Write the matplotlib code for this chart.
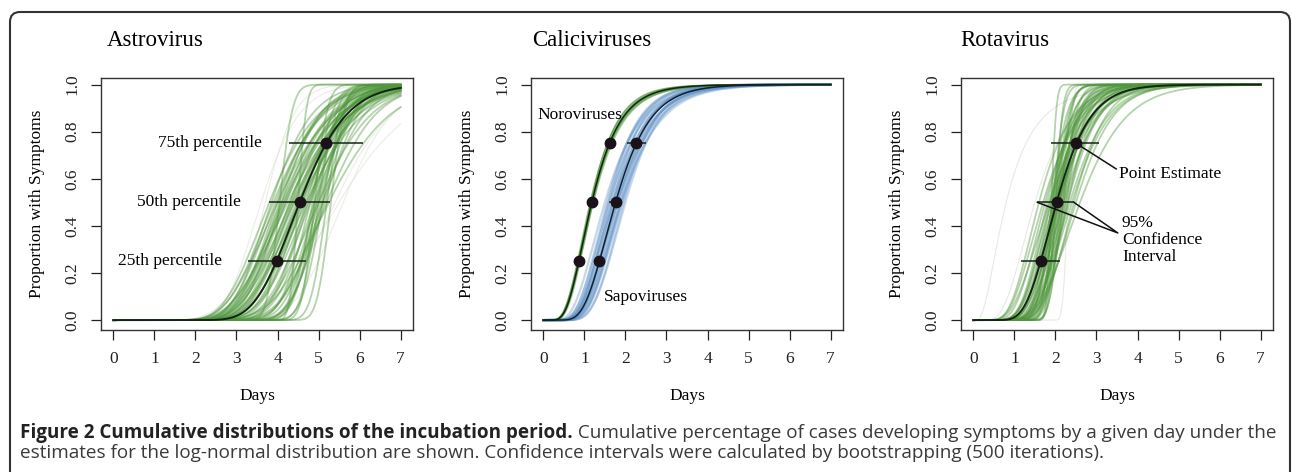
import math
import numpy as np
import matplotlib
matplotlib.use('Agg')
import matplotlib.pyplot as plt
from matplotlib.patches import FancyBboxPatch
from matplotlib.transforms import IdentityTransform

# Parametros (mediana em dias, dispersao log)
astro_med = [3.80, 3.85, 3.90, 3.95, 4.00, 4.05, 4.05, 4.10, 4.15, 4.20, 4.25, 4.30, 4.35, 4.40,
             4.45, 4.50, 4.55, 4.60, 4.65, 4.70, 4.75, 4.80, 4.85, 4.90, 4.90, 4.95, 5.00, 5.00,
             5.05, 5.10, 5.15, 5.20, 5.20, 5.25, 5.30, 4.50,
             4.00, 4.10, 4.20, 4.30, 4.40, 4.50, 4.60, 4.70, 4.80, 4.90, 5.00, 5.10, 4.35, 4.55,
             4.75, 4.15, 4.95, 5.10]
astro_sd = [0.24, 0.20, 0.24, 0.22, 0.26, 0.20, 0.06, 0.23, 0.25, 0.21, 0.27, 0.22, 0.19, 0.24,
            0.20, 0.22, 0.18, 0.21, 0.19, 0.23, 0.15, 0.12, 0.08, 0.10, 0.05, 0.14, 0.07, 0.20,
            0.11, 0.16, 0.13, 0.18, 0.06, 0.22, 0.05, 0.035,
            0.20, 0.18, 0.24, 0.20, 0.21, 0.19, 0.17, 0.15, 0.18, 0.16, 0.13, 0.12, 0.25, 0.24,
            0.20, 0.21, 0.09, 0.08]
astro_faint_med = [3.60, 3.70, 4.10, 5.40, 5.50, 5.60]
astro_faint_sd = [0.20, 0.15, 0.30, 0.20, 0.25, 0.17]

noro_med = [1.14, 1.15, 1.16, 1.17, 1.18, 1.18, 1.19, 1.20, 1.21, 1.22]
noro_sd = [0.47, 0.45, 0.44, 0.48, 0.45, 0.49, 0.47, 0.46, 0.44, 0.47]

sapo_med = [1.50, 1.55, 1.58, 1.60, 1.62, 1.65, 1.68, 1.70, 1.70, 1.72, 1.75, 1.78, 1.80, 1.80,
            1.82, 1.85, 1.88, 1.90, 1.90, 1.93, 1.96, 2.00]
sapo_sd = [0.45, 0.40, 0.37, 0.42, 0.36, 0.38, 0.40, 0.34, 0.43, 0.38, 0.36, 0.40, 0.35, 0.42,
           0.38, 0.33, 0.36, 0.34, 0.40, 0.37, 0.32, 0.33]

rota_med = [1.60, 1.70, 1.75, 1.80, 1.85, 1.88, 1.90, 1.90, 1.93, 1.95, 1.98, 2.00, 2.00, 2.02,
            2.05, 2.05, 2.10, 2.10, 2.12, 2.15, 2.20, 2.20, 2.25, 2.30, 2.35, 2.40, 2.45, 2.50, 2.60,
            1.85, 1.95, 2.00, 2.05, 2.10, 2.15, 2.20, 2.25, 2.30, 1.92, 2.00, 2.08, 1.97, 2.18]
rota_sd = [0.38, 0.40, 0.35, 0.30, 0.42, 0.25, 0.33, 0.05, 0.20, 0.10, 0.18, 0.07, 0.28, 0.22,
           0.12, 0.35, 0.25, 0.30, 0.10, 0.20, 0.30, 0.15, 0.27, 0.22, 0.30, 0.30, 0.25, 0.28, 0.33,
           0.30, 0.28, 0.24, 0.20, 0.17, 0.26, 0.22, 0.18, 0.26, 0.15, 0.13, 0.30, 0.34, 0.12]
rota_faint_med = [0.80, 2.30, 1.50]
rota_faint_sd = [0.70, 0.04, 0.45]

# Estimativas pontuais (mediana, dispersao)
astro_est = (4.54, 0.197)
noro_est = (1.18, 0.46)
sapo_est = (1.76, 0.375)
rota_est = (2.03, 0.315)

# Percentis 25/50/75 e intervalos de confianca
pct = [0.25, 0.50, 0.75]
astro_q, astro_lo, astro_hi = [3.98, 4.54, 5.19], [3.28, 3.80, 4.28], [4.70, 5.29, 6.07]
noro_q, noro_lo, noro_hi = [0.87, 1.18, 1.62], [0.83, 1.14, 1.57], [0.92, 1.22, 1.67]
sapo_q, sapo_lo, sapo_hi = [1.35, 1.76, 2.25], [1.25, 1.61, 2.04], [1.45, 1.92, 2.49]
rota_q, rota_lo, rota_hi = [1.64, 2.03, 2.51], [1.15, 1.56, 1.90], [2.12, 2.45, 3.06]
astro_lbl_x = [2.65, 3.11, 3.63]

green = '#4f963c'
blue = '#5d8fc4'
dark = '#142414'
serif = 'Liberation Serif'
fsz = 12.5

erf = np.vectorize(math.erf)


def lognorm_cdf(x, med, sd):
    out = np.zeros_like(x)
    pos = x > 0
    out[pos] = 0.5 * (1 + erf(np.log(x[pos] / med) / (sd * np.sqrt(2))))
    return out


x = np.linspace(0, 7, 500)

fig = plt.figure(figsize=(12.92, 4.72), dpi=100)
plt.rcParams['font.family'] = serif

lefts = [101 / 1292, 531 / 1292, 961 / 1292]
axs = [fig.add_axes([l, 142 / 472, 312 / 1292, 252 / 472]) for l in lefts]


def style(ax, title, tx):
    ax.set_xlim(-0.3, 7.3)
    ax.set_ylim(-0.042, 1.028)
    ax.set_xticks(range(8))
    ax.set_yticks([0, 0.2, 0.4, 0.6, 0.8, 1.0])
    ax.set_yticklabels(['0.0', '0.2', '0.4', '0.6', '0.8', '1.0'], rotation=90, va='center')
    ax.tick_params(direction='out', length=7, width=0.9, labelsize=fsz, pad=8, colors='#222')
    for s in ax.spines.values():
        s.set_linewidth(1.0)
        s.set_color('#333')
    ax.set_xlabel('Days', fontsize=fsz)
    ax.set_ylabel('Proportion with Symptoms', fontsize=fsz)
    ax.xaxis.set_label_coords(0.5, -0.232)
    ax.yaxis.set_label_coords(-0.178, 0.5)
    ax.text(tx, 1.15, title, transform=ax.transAxes, fontsize=16.5, va='center')


def estimates(ax, q, lo, hi):
    ax.hlines(pct, lo, hi, color=dark, lw=1.1, zorder=5)
    ax.plot(q, pct, 'o', color='#1a1218', ms=7.5, zorder=6)


# Astrovirus
ax = axs[0]
for m, s in zip(astro_faint_med, astro_faint_sd):
    ax.plot(x, lognorm_cdf(x, m, s), color='#d4dece', lw=0.8, alpha=0.5)
for m, s in zip(astro_med, astro_sd):
    ax.plot(x, lognorm_cdf(x, m, s), color=green, lw=1.3, alpha=0.42)
ax.plot(x, lognorm_cdf(x, *astro_est), color=dark, lw=1.4, zorder=4)
estimates(ax, astro_q, astro_lo, astro_hi)
for q, p in zip(astro_lbl_x, pct):
    ax.text(q, p, f'{int(p * 100)}th percentile', ha='right', va='center', fontsize=fsz)
style(ax, 'Astrovirus', 0.019)

# Caliciviruses
ax = axs[1]
for m, s in zip(sapo_med, sapo_sd):
    ax.plot(x, lognorm_cdf(x, m, s), color=blue, lw=1.6, alpha=0.35)
for m, s in zip(noro_med, noro_sd):
    ax.plot(x, lognorm_cdf(x, m, s), color=green, lw=1.0, alpha=0.5)
ax.plot(x, lognorm_cdf(x, *noro_est), color=dark, lw=1.1, zorder=4)
ax.plot(x, lognorm_cdf(x, *sapo_est), color='#10202e', lw=1.1, zorder=4)
estimates(ax, noro_q, noro_lo, noro_hi)
estimates(ax, sapo_q, sapo_lo, sapo_hi)
ax.text(-0.14, 0.87, 'Noroviruses', va='center', fontsize=fsz)
ax.text(1.47, 0.10, 'Sapoviruses', va='center', fontsize=fsz)
style(ax, 'Caliciviruses', 0.003)

# Rotavirus
ax = axs[2]
for m, s in zip(rota_faint_med, rota_faint_sd):
    ax.plot(x, lognorm_cdf(x, m, s), color='#d6ddd2', lw=0.8, alpha=0.6)
for m, s in zip(rota_med, rota_sd):
    ax.plot(x, lognorm_cdf(x, m, s), color=green, lw=1.3, alpha=0.42)
ax.plot(x, lognorm_cdf(x, *rota_est), color=dark, lw=1.4, zorder=4)
estimates(ax, rota_q, rota_lo, rota_hi)
ax.plot([rota_q[2], 3.48], [0.75, 0.642], color='#111', lw=1.1, zorder=5)
ax.text(3.56, 0.62, 'Point Estimate', va='center', fontsize=fsz)
ax.plot([rota_lo[1], 3.52, rota_hi[1]], [0.5, 0.37, 0.5], color='#111', lw=1.1, zorder=5)
ax.text(3.62, 0.34, '95%\nConfidence\nInterval', va='center', fontsize=fsz, linespacing=1.05)
style(ax, 'Rotavirus', -0.003)

# Moldura arredondada
box = FancyBboxPatch((10, -40), 1280, 500, boxstyle='round,pad=0,rounding_size=10',
                     transform=IdentityTransform(), fill=False, ec='#333', lw=1.5)
fig.add_artist(box)

# Legenda da figura
bold = 'Figure 2 Cumulative distributions of the incubation period.'
rest = ' Cumulative percentage of cases developing symptoms by a given day under the'
line2 = ('estimates for the log-normal distribution are shown. Confidence intervals were '
         'calculated by bootstrapping (500 iterations).')
cap = ['Open Sans', 'DejaVu Sans']
x0 = 20 / 1292
t1 = fig.text(x0, (472 - 438) / 472, bold, family=cap, weight='bold', fontsize=10,
              color='#222', va='baseline')
t2 = fig.text(x0, (472 - 438) / 472, rest, family=cap, fontsize=10, color='#3a3a3a', va='baseline')
t3 = fig.text(x0, (472 - 458) / 472, line2, family=cap, fontsize=10, color='#3a3a3a', va='baseline')
fig.canvas.draw()
r = fig.canvas.get_renderer()
w = t1.get_window_extent(r).width + t2.get_window_extent(r).width
fs = 10 * 1260 / w
for t in (t1, t2, t3):
    t.set_fontsize(fs)
fig.canvas.draw()
w1 = t1.get_window_extent(r).width
t2.set_x(x0 + w1 / 1292)

fig.savefig('out.png', dpi=100)
